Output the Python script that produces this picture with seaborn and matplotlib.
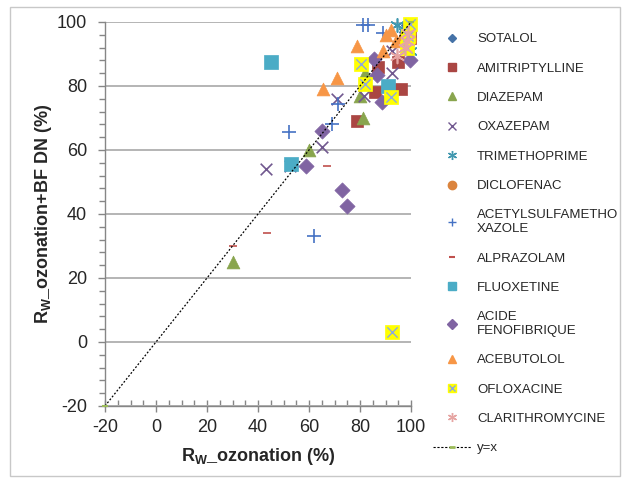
import matplotlib
matplotlib.use('Agg')
import matplotlib.pyplot as plt
import seaborn as sns
from matplotlib.lines import Line2D
from matplotlib.patches import Rectangle
from matplotlib.ticker import MultipleLocator

# données
sotalol_x = [98, 99]
sotalol_y = [97, 99]
amitriptylline_x = [79, 86, 87, 95, 96, 99.5]
amitriptylline_y = [69, 78, 86, 87.5, 79, 95]
diazepam_x = [30, 60, 81, 82, 80]
diazepam_y = [25, 60, 70, 84, 77]
oxazepam_x = [43, 52.5, 65, 71, 81.5, 92.5, 92.5]
oxazepam_y = [54, 55, 61, 76, 77, 84, 91]
trimethoprime_x = [94.5, 97.5, 99.5]
trimethoprime_y = [99, 97, 91]
diclofenac_x = [99.5, 99.5]
diclofenac_y = [97, 94.5]
acetylsulfa_x = [52, 62, 69, 71.5, 81, 83, 89]
acetylsulfa_y = [65.5, 33, 68, 74.5, 99, 99, 96.5]
alprazolam_x = [30, 43.5, 67]
alprazolam_y = [30, 34, 55]
fluoxetine_x = [45, 53, 91]
fluoxetine_y = [87.5, 55.5, 80]
fenofibrique_x = [59, 65, 73, 75, 85.5, 86.5, 88.5, 99.5]
fenofibrique_y = [55, 66, 47.5, 42.5, 88.5, 83.5, 75, 88]
acebutolol_x = [65.5, 71, 79, 89, 90, 92, 94, 96]
acebutolol_y = [79, 82.5, 92.5, 91, 96, 97.5, 94, 95]
ofloxacine_x = [92.5, 80.5, 82, 92, 99.5, 98.5, 99]
ofloxacine_y = [3, 87, 80.5, 76.5, 99.5, 92, 95.5]
clarithro_x = [94.5, 97.5, 98.5, 99]
clarithro_y = [89.5, 92, 94, 96.5]
diag = [-20, 100]

sns.set_style('white')
plt.rcParams['font.family'] = ['Liberation Sans', 'DejaVu Sans']
plt.rcParams['mathtext.fontset'] = 'custom'
plt.rcParams['mathtext.bf'] = 'Liberation Sans:bold'
plt.rcParams['mathtext.rm'] = 'Liberation Sans'
plt.rcParams['axes.unicode_minus'] = False

W, H = 622, 483
fig = plt.figure(figsize=(W / 100, H / 100), dpi=100)
ax = fig.add_axes([105 / W, 1 - 406 / H, 306 / W, 384 / H])

star = (6, 2, 0)
# (label, x, y, marker, couleur, taille, marqueur légende, taille légende)
series = [
    ('SOTALOL', sotalol_x, sotalol_y, 'D', '#4572A7', 55, 'D', 4.5),
    ('AMITRIPTYLLINE', amitriptylline_x, amitriptylline_y, 's', '#AA4643', 80, 's', 5.5),
    ('DIAZEPAM', diazepam_x, diazepam_y, '^', '#89A54E', 85, '^', 6),
    ('OXAZEPAM', oxazepam_x, oxazepam_y, 'x', '#71588F', 70, 'x', 5.5),
    ('TRIMETHOPRIME', trimethoprime_x, trimethoprime_y, star, '#4198AF', 90, star, 6.5),
    ('DICLOFENAC', diclofenac_x, diclofenac_y, 'o', '#DB843D', 80, 'o', 6),
    ('ACETYLSULFAMETHO\nXAZOLE', acetylsulfa_x, acetylsulfa_y, '+', '#4572C4', 90, '+', 6),
    ('ALPRAZOLAM', alprazolam_x, alprazolam_y, '_', '#C0504D', 40, '_', 5),
    ('FLUOXETINE', fluoxetine_x, fluoxetine_y, 's', '#4BACC6', 90, 's', 5.5),
    ('ACIDE\nFENOFIBRIQUE', fenofibrique_x, fenofibrique_y, 'D', '#8064A2', 60, 'D', 5),
    ('ACEBUTOLOL', acebutolol_x, acebutolol_y, '^', '#F79646', 85, '^', 6),
    ('OFLOXACINE', ofloxacine_x, ofloxacine_y, 's', '#FFFF00', 90, 's', 6),
    ('CLARITHROMYCINE', clarithro_x, clarithro_y, star, '#E6A5A3', 100, star, 6.5),
]

handles = []
for i, (lab, xs, ys, mk, col, sz, lmk, lsz) in enumerate(series):
    filled = mk in ('D', 's', '^', 'o')
    if filled:
        sns.scatterplot(x=xs, y=ys, marker=mk, color=col, s=sz, edgecolor=col,
                        linewidth=0.5, ax=ax, clip_on=False, zorder=3 + i)
    else:
        sns.scatterplot(x=xs, y=ys, marker=mk, color=col, s=sz, linewidth=1.2,
                        ax=ax, clip_on=False, zorder=3 + i)
    if lab == 'OFLOXACINE':
        sns.scatterplot(x=xs, y=ys, marker='x', color='#8EA9DB', s=55, linewidth=1,
                        ax=ax, clip_on=False, zorder=3 + i)
        h = (Line2D([], [], ls='none', marker='s', color=col, markersize=lsz),
             Line2D([], [], ls='none', marker='x', color='#8EA9DB', markersize=lsz - 1, mew=1))
    else:
        h = Line2D([], [], ls='none', marker=lmk, color=col, markersize=lsz,
                   mew=1.5 if lmk == '_' else 1)
    handles.append(h)

# droite y = x
ax.plot(diag, diag, color='black', lw=0.9, ls=(0, (1.5, 1.5)), zorder=20,
        marker='_', mec='#9BBB59', ms=5, mew=1.5, clip_on=False)
handles.append(Line2D([], [], color='black', lw=0.8, ls=(0, (2, 1.5)),
                      marker='_', mec='#9BBB59', ms=5, mew=2))
labels = [s[0] for s in series] + ['y=x']

ax.set_xlim(-20, 100)
ax.set_ylim(-20, 100)
ax.xaxis.set_major_locator(MultipleLocator(20))
ax.xaxis.set_minor_locator(MultipleLocator(5))
ax.yaxis.set_major_locator(MultipleLocator(20))
ax.yaxis.set_minor_locator(MultipleLocator(4))
ax.set_axisbelow(True)
ax.yaxis.grid(True, which='major', color='#b4b4b4', lw=1.4)
ax.xaxis.grid(False)
for side in ['top', 'right']:
    ax.spines[side].set_visible(False)
for side in ['left', 'bottom']:
    ax.spines[side].set_color('#868686')
    ax.spines[side].set_linewidth(1)

ax.tick_params(axis='x', which='major', direction='inout', length=9, width=1,
               color='#868686', labelsize=13, pad=5)
ax.tick_params(axis='x', which='minor', direction='in', length=4, width=1, color='#868686')
ax.tick_params(axis='y', which='major', direction='out', length=5, width=1,
               color='#868686', labelsize=13, pad=8)
ax.tick_params(axis='y', which='minor', direction='out', length=4, width=1, color='#868686')
ax.tick_params(bottom=True, left=True, which='both')

ax.set_xlabel(r'R$_\mathbf{W}$_ozonation (%)', fontsize=13, fontweight='bold')
ax.set_ylabel(r'R$_\mathbf{W}$_ozonation+BF DN (%)', fontsize=13, fontweight='bold')
ax.xaxis.set_label_coords(0.5, -40 / 384)
ax.yaxis.set_label_coords(-51 / 306, 0.5)

fig.legend(handles, labels, loc='upper left', bbox_to_anchor=(433 / W, 1 - 33 / H),
           frameon=False, fontsize=9.5, borderpad=0, borderaxespad=0,
           handlelength=2.9, handletextpad=0.45, labelspacing=1.3)

# cadre du graphique
fig.patches.append(Rectangle((10 / W, 7 / H), 610 / W, 469 / H, transform=fig.transFigure,
                             fill=False, edgecolor='#c8c8c8', lw=1))

fig.savefig('out.png', dpi=100)
